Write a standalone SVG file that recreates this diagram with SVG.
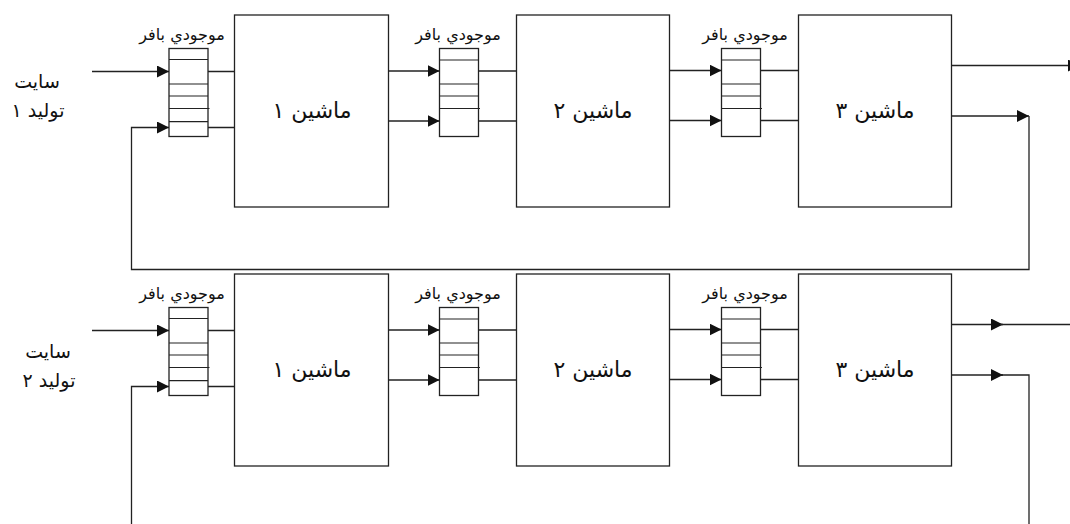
<svg xmlns="http://www.w3.org/2000/svg" width="1070" height="524" viewBox="0 0 1070 524">
<defs>
<marker id="ah" markerUnits="userSpaceOnUse" markerWidth="12" markerHeight="12" refX="12" refY="6" orient="auto">
<path d="M0,0 L12,6 L0,12 z" fill="#111"/>
</marker>
<style>
.box{fill:#fff;stroke:#222;stroke-width:1.3}
.buf{fill:#fff;stroke:#222;stroke-width:1.3}
.bl{stroke:#222;stroke-width:1.2;fill:none}
.c{stroke:#222;stroke-width:1.3;fill:none}
.a{marker-end:url(#ah)}
.lbl{font-family:"DejaVu Sans",sans-serif;font-size:16px;fill:#111;text-anchor:middle}
.mlbl{font-family:"DejaVu Sans",sans-serif;font-size:22px;fill:#111;text-anchor:middle}
.slbl{font-family:"DejaVu Sans",sans-serif;font-size:19px;fill:#111;text-anchor:middle}
</style>
</defs>
<rect width="1070" height="524" fill="#fff"/>

<!-- Row 1 -->
<g id="site1"><text class="slbl" x="37" y="88">سایت</text><text class="slbl" x="38" y="117">تولید ۱</text></g>
<g id="buffer1-1">
<text class="lbl" x="182" y="40">موجودي بافر</text>
<rect class="buf" x="169" y="48.5" width="39" height="88"/>
<path class="bl" d="M169,59.5H208M169,84H208M169,96H208M169,108.5H209.5M169,121.7H208"/>
</g>
<g id="machine1-1"><rect class="box" x="234.5" y="15" width="154" height="192"/><text class="mlbl" x="312" y="118">ماشین ۱</text></g>
<g id="buffer1-2">
<text class="lbl" x="458" y="40">موجودي بافر</text>
<rect class="buf" x="439.5" y="48.5" width="39" height="88"/>
<path class="bl" d="M439.5,60H478.5M439.5,84H478.5M439.5,96H478.5M439.5,108.5H480"/>
</g>
<g id="machine1-2"><rect class="box" x="516.5" y="15" width="153" height="192"/><text class="mlbl" x="593" y="118">ماشین ۲</text></g>
<g id="buffer1-3">
<text class="lbl" x="745" y="40">موجودي بافر</text>
<rect class="buf" x="721.5" y="48.5" width="39" height="88"/>
<path class="bl" d="M721.5,60H760.5M721.5,84H760.5M721.5,96H760.5M721.5,108.5H762"/>
</g>
<g id="machine1-3"><rect class="box" x="798.5" y="15" width="153" height="192"/><text class="mlbl" x="875" y="118">ماشین ۳</text></g>

<!-- Row 2 -->
<g id="site2"><text class="slbl" x="48" y="358">سایت</text><text class="slbl" x="49" y="387">تولید ۲</text></g>
<g id="buffer2-1">
<text class="lbl" x="182" y="299">موجودي بافر</text>
<rect class="buf" x="169" y="307.5" width="39" height="88"/>
<path class="bl" d="M169,318.5H208M169,343H208M169,355H208M169,367.5H209.5M169,380.7H208"/>
</g>
<g id="machine2-1"><rect class="box" x="234.5" y="274" width="154" height="192"/><text class="mlbl" x="312" y="377">ماشین ۱</text></g>
<g id="buffer2-2">
<text class="lbl" x="458" y="299">موجودي بافر</text>
<rect class="buf" x="439.5" y="307.5" width="39" height="88"/>
<path class="bl" d="M439.5,319H478.5M439.5,343H478.5M439.5,355H478.5M439.5,367.5H480"/>
</g>
<g id="machine2-2"><rect class="box" x="516.5" y="274" width="153" height="192"/><text class="mlbl" x="593" y="377">ماشین ۲</text></g>
<g id="buffer2-3">
<text class="lbl" x="745" y="299">موجودي بافر</text>
<rect class="buf" x="721.5" y="307.5" width="39" height="88"/>
<path class="bl" d="M721.5,319H760.5M721.5,343H760.5M721.5,355H760.5M721.5,367.5H762"/>
</g>
<g id="machine2-3"><rect class="box" x="798.5" y="274" width="153" height="192"/><text class="mlbl" x="875" y="377">ماشین ۳</text></g>

<g id="connectors">
<!-- row 1 -->
<path class="c a" d="M92,71.5H169"/>
<path class="c a" d="M951.5,116H1029"/>
<path class="c a" d="M1029,116V269.5H131.5V127.5H169"/>
<path class="c a" d="M951.5,65.5H1080"/>
<path class="c" d="M208,71.5H234.5M208,127.5H234.5"/>
<path class="c a" d="M388.5,71H439.5"/>
<path class="c a" d="M388.5,121H439.5"/>
<path class="c" d="M478.5,71H516.5M478.5,121H516.5"/>
<path class="c a" d="M669.5,70.5H721.5"/>
<path class="c a" d="M669.5,120.5H721.5"/>
<path class="c" d="M760.5,70.5H798.5M760.5,120.5H798.5"/>
<!-- row 2 -->
<path class="c a" d="M92,330.5H169"/>
<path class="c a" d="M131.5,524V386.5H169"/>
<path class="c" d="M208,330.5H234.5M208,386.5H234.5"/>
<path class="c a" d="M388.5,330H439.5"/>
<path class="c a" d="M388.5,380H439.5"/>
<path class="c" d="M478.5,330H516.5M478.5,380H516.5"/>
<path class="c a" d="M669.5,329.5H721.5"/>
<path class="c a" d="M669.5,379.5H721.5"/>
<path class="c" d="M760.5,329.5H798.5M760.5,379.5H798.5"/>
<path class="c a" d="M951.5,324.5H1003"/>
<path class="c" d="M1000,324.5H1070"/>
<path class="c a" d="M951.5,375H1003"/>
<path class="c" d="M1000,375H1029V524"/>
</g>
</svg>
